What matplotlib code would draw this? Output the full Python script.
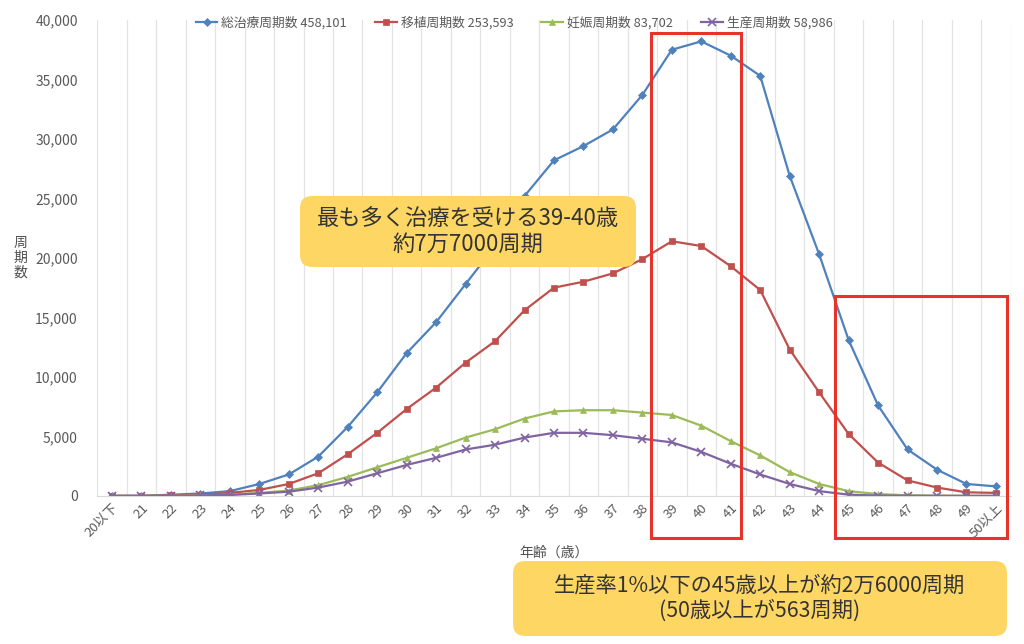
import numpy as np
import matplotlib.pyplot as plt
from matplotlib.patches import Rectangle, FancyBboxPatch
from matplotlib.ticker import FuncFormatter

plt.rcParams['font.family'] = ['Noto Sans CJK JP', 'DejaVu Sans']

# 年齢カテゴリ
ages = ["20以下"] + [str(a) for a in range(21, 50)] + ["50以上"]

# 各周期数
total = [0, 0, 100, 200, 400, 1000, 1800, 3300, 5800, 8700, 12000, 14600, 17800, 21000,
         25200, 28200, 29400, 30800, 33700, 37500, 38200, 37000, 35300, 26900, 20300,
         13100, 7600, 3900, 2200, 1000, 800]
transfer = [0, 0, 50, 100, 250, 500, 1000, 1900, 3500, 5300, 7300, 9100, 11200, 13000,
            15600, 17500, 18000, 18700, 19900, 21400, 21000, 19300, 17300, 12300, 8700,
            5200, 2800, 1300, 700, 300, 250]
pregnancy = [0, 0, 0, 50, 100, 250, 450, 900, 1600, 2400, 3200, 4000, 4900, 5600,
             6500, 7100, 7200, 7200, 7000, 6800, 5900, 4600, 3400, 2000, 1000,
             400, 150, 50, 20, 10, 5]
birth = [0, 0, 0, 40, 80, 200, 350, 700, 1200, 1900, 2600, 3200, 3900, 4300,
         4900, 5300, 5300, 5100, 4800, 4500, 3700, 2700, 1800, 1000, 400,
         100, 30, 10, 5, 2, 1]

series_labels = ["総治療周期数 458,101", "移植周期数 253,593", "妊娠周期数 83,702", "生産周期数 58,986"]
colors = ["#4F81BD", "#C0504D", "#9BBB59", "#8064A2"]
markers = ["D", "s", "^", "x"]

fig = plt.figure(figsize=(10.24, 6.44), dpi=100)
ax = fig.add_axes([0.095, 0.230, 0.892, 0.739])

x = np.arange(len(ages))
for vals, lab, c, m in zip([total, transfer, pregnancy, birth], series_labels, colors, markers):
    ms = 4.5 if m != "x" else 5.5
    ax.plot(x, vals, color=c, marker=m, markersize=ms, linewidth=1.6, label=lab,
            markeredgewidth=1.2 if m == "x" else 0.5)

ax.set_xlim(-0.5, len(ages) - 0.5)
ax.set_ylim(0, 40000)
ax.set_yticks(np.arange(0, 40001, 5000))
ax.yaxis.set_major_formatter(FuncFormatter(lambda v, p: f"{int(v):,}"))
ax.set_xticks(x)
ax.set_xticklabels(ages, rotation=45, ha='right', rotation_mode='anchor')
ax.set_xticks(np.arange(-0.5, len(ages)), minor=True)
ax.grid(axis='x', which='minor', color='#E3E3E3', linewidth=0.9)
ax.tick_params(which='both', length=0)
ax.tick_params(axis='y', labelsize=10, labelcolor='#595959', pad=14)
ax.tick_params(axis='x', labelsize=9.5, labelcolor='#595959', pad=4)
for s in ['top', 'right', 'left']:
    ax.spines[s].set_visible(False)
ax.spines['bottom'].set_color('#D9D9D9')

ax.set_xlabel("年齢（歳）", fontsize=10, color='#505050', labelpad=4)
fig.text(0.02, 0.60, "周\n期\n数", fontsize=10, color='#505050', ha='center', va='center',
         linespacing=1.1)

fig.legend(loc='upper center', bbox_to_anchor=(0.502, 0.993), ncol=4, frameon=False,
           fontsize=9.2, labelcolor='#595959', handlelength=1.7, columnspacing=2.2,
           handletextpad=0.3)

# 赤枠
red = '#E8332A'
ax.add_patch(Rectangle((18.29, -3550), 3.05, 42450, fill=False, edgecolor=red,
                       linewidth=2.2, clip_on=False, zorder=5))
ax.add_patch(Rectangle((24.53, -3550), 5.84, 20350, fill=False, edgecolor=red,
                       linewidth=2.2, clip_on=False, zorder=5))

# 黄色の吹き出し
yellow = '#FDD663'
W, H = 1024, 644
for (x0, y0, x1, y1), txt, fs in [((300, 196, 636, 267), "最も多く治療を受ける39-40歳\n約7万7000周期", 16),
                                  ((513, 561, 1007, 636), "生産率1%以下の45歳以上が約2万6000周期\n(50歳以上が563周期)", 15.3)]:
    box = FancyBboxPatch((x0 / W, 1 - y1 / H), (x1 - x0) / W, (y1 - y0) / H,
                         boxstyle="round,pad=0,rounding_size=0.012", mutation_aspect=W / H,
                         transform=fig.transFigure, facecolor=yellow, edgecolor='none', zorder=6)
    fig.add_artist(box)
    fig.text((x0 + x1) / 2 / W, 1 - (y0 + y1) / 2 / H, txt, ha='center', va='center',
             fontsize=fs, color='#333333', linespacing=1.15, zorder=7)

fig.savefig("out.png", dpi=100)
